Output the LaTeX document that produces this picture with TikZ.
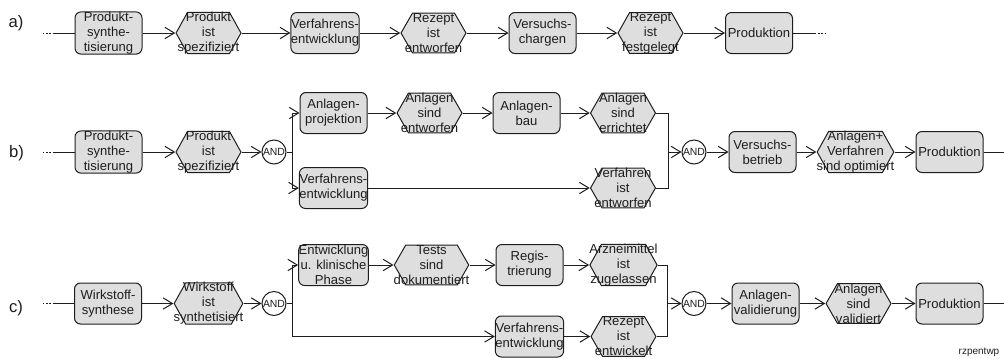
\documentclass[tikz,border=0pt]{standalone}
\usepackage{fontspec}
\setmainfont{Liberation Sans}
\usetikzlibrary{arrows.meta,calc}
\definecolor{boxgray}{RGB}{222,222,222}
\definecolor{ink}{RGB}{30,30,30}
\begin{document}
\begin{tikzpicture}[x=0.75pt,y=-0.75pt,
  base/.style={font=\fontsize{9.8pt}{11.25pt}\selectfont, align=center, inner sep=0pt, text=ink},
  fn/.style={base, draw=ink, line width=0.75pt, fill=boxgray, rounded corners=4.5pt,
    minimum width=50.25pt, minimum height=30.75pt},
  ev/.style={base, minimum width=49.5pt, minimum height=30.75pt,
    path picture={\filldraw[draw=ink, fill=boxgray, line width=0.75pt, line join=miter]
      ([xshift=0.4pt]path picture bounding box.west)
      -- ([xshift=9pt,yshift=-0.4pt]path picture bounding box.north west)
      -- ([xshift=-9pt,yshift=-0.4pt]path picture bounding box.north east)
      -- ([xshift=-0.4pt]path picture bounding box.east)
      -- ([xshift=-9pt,yshift=0.4pt]path picture bounding box.south east)
      -- ([xshift=9pt,yshift=0.4pt]path picture bounding box.south west) -- cycle;}},
  andop/.style={circle, draw=ink, line width=0.75pt, fill=white, minimum size=18pt, inner sep=0pt,
    font=\fontsize{7.8pt}{9pt}\selectfont, text=ink},
  rowlabel/.style={font=\fontsize{12.5pt}{14pt}\selectfont, text=ink, inner sep=0pt},
  link/.style={draw=ink, line width=0.75pt},
  arr/.style={link, -{Straight Barb[length=7pt,width=8.5pt]}},
  stub/.style={draw=ink, line width=0.75pt, dash pattern=on 1pt off 1.4pt},
]
\useasboundingbox (0,0) rectangle (1004,358);

% ---------- a) ----------
\node[rowlabel] (la) at (16,23) {a)};
\node[fn] (a1) at (108.5,33) {Produkt-\\synthe-\\tisierung};
\node[ev] (a2) at (208.5,33) {Produkt\\ist\\spezifiziert};
\node[fn] (a3) at (325,33) {Verfahrens-\\entwicklung};
\node[ev] (a4) at (433.5,33) {Rezept\\ist\\entworfen};
\node[fn] (a5) at (542.5,33) {Versuchs-\\chargen};
\node[ev] (a6) at (650.5,33) {Rezept\\ist\\festgelegt};
\node[fn] (a7) at (759,33) {Produktion};
\coordinate (a0d) at (43,33);
\coordinate (a0) at (53,33);
\coordinate (a8) at (815,33);
\coordinate (a8d) at (825,33);
\draw[stub] (a0d) -- (a0);
\draw[link] (a0) -- (a1.west);
\draw[arr] (a1) -- (a2);
\draw[arr] (a2) -- (a3);
\draw[arr] (a3) -- (a4);
\draw[arr] (a4) -- (a5);
\draw[arr] (a5) -- (a6);
\draw[arr] (a6) -- (a7);
\draw[link] (a7.east) -- (a8);
\draw[stub] (a8) -- (a8d);

% ---------- b) ----------
\node[rowlabel] (lb) at (16.5,153) {b)};
\node[fn] (b1) at (108.5,152) {Produkt-\\synthe-\\tisierung};
\node[ev] (b2) at (208.5,152) {Produkt\\ist\\spezifiziert};
\node[andop] (b3) at (274,152) {AND};
\node[fn] (b4) at (333.5,113) {Anlagen-\\projektion};
\node[ev] (b5) at (429.5,113) {Anlagen\\sind\\entworfen};
\node[fn] (b6) at (526.5,113) {Anlagen-\\bau};
\node[ev] (b7) at (623,113) {Anlagen\\sind\\errichtet};
\node[fn] (b8) at (333.5,188) {Verfahrens-\\entwicklung};
\node[ev] (b9) at (623,188) {Verfahren\\ist\\entworfen};
\node[andop] (b10) at (694,152) {AND};
\node[fn] (b11) at (762.5,152) {Versuchs-\\betrieb};
\node[ev] (b12) at (855.5,152) {Anlagen+\\Verfahren\\sind optimiert};
\node[fn] (b13) at (949.5,152) {Produktion};
\coordinate (b0d) at (43,152);
\coordinate (b0) at (53,152);
\coordinate (bsplit) at (292,152);
\coordinate (bjoin) at (668,152);
\coordinate (bend) at (1004,152);
\draw[stub] (b0d) -- (b0);
\draw[link] (b0) -- (b1.west);
\draw[arr] (b1) -- (b2);
\draw[arr] (b2) -- (b3);
\draw[link] (b3.east) -- (bsplit);
\draw[arr] (bsplit) |- (b4.west);
\draw[arr] (bsplit) |- (b8.west);
\draw[arr] (b4) -- (b5);
\draw[arr] (b5) -- (b6);
\draw[arr] (b6) -- (b7);
\draw[arr] (b8) -- (b9);
\draw[link] (b7.east) -| (bjoin);
\draw[link] (b9.east) -| (bjoin);
\draw[arr] (bjoin) -- (b10.west);
\draw[arr] (b10) -- (b11);
\draw[arr] (b11) -- (b12);
\draw[arr] (b12) -- (b13);
\draw[link] (b13.east) -- (bend);

% ---------- c) ----------
\node[rowlabel] (lc) at (16,308) {c)};
\node[fn] (c1) at (108,303.5) {Wirkstoff-\\synthese};
\node[ev] (c2) at (208.5,303.5) {Wirkstoff\\ist\\synthetisiert};
\node[andop] (c3) at (274,303.5) {AND};
\node[fn] (c4) at (333.5,265) {Entwicklung\\u. klinische\\Phase};
\node[ev] (c5) at (431.5,265) {Tests\\sind\\dokumentiert};
\node[fn] (c6) at (529.5,265) {Regis-\\trierung};
\node[ev] (c7) at (623.5,265) {Arzneimittel\\ist\\zugelassen};
\node[fn] (c8) at (529.5,336.5) {Verfahrens-\\entwicklung};
\node[ev] (c9) at (623.5,336.5) {Rezept\\ist\\entwickelt};
\node[andop] (c10) at (694,303.5) {AND};
\node[fn] (c11) at (765.5,303.5) {Anlagen-\\validierung};
\node[ev] (c12) at (858.5,303.5) {Anlagen\\sind\\validiert};
\node[fn] (c13) at (949.5,303.5) {Produktion};
\coordinate (c0d) at (43,303.5);
\coordinate (c0) at (53,303.5);
\coordinate (csplit) at (292,303.5);
\coordinate (cjoin) at (667,303.5);
\coordinate (cend) at (1004,303.5);
\draw[stub] (c0d) -- (c0);
\draw[link] (c0) -- (c1.west);
\draw[arr] (c1) -- (c2);
\draw[arr] (c2) -- (c3);
\draw[link] (c3.east) -- (csplit);
\draw[arr] (csplit) |- (c4.west);
\draw[arr] (csplit) |- (c8.west);
\draw[arr] (c4) -- (c5);
\draw[arr] (c5) -- (c6);
\draw[arr] (c6) -- (c7);
\draw[arr] (c8) -- (c9);
\draw[link] (c7.east) -| (cjoin);
\draw[link] (c9.east) -| (cjoin);
\draw[arr] (cjoin) -- (c10.west);
\draw[arr] (c10) -- (c11);
\draw[arr] (c11) -- (c12);
\draw[arr] (c12) -- (c13);
\draw[link] (c13.east) -- (cend);

\node[font=\fontsize{7.5pt}{9pt}\selectfont, text=ink, inner sep=0pt] (tag) at (979,352) {rzpentwp};
\end{tikzpicture}
\end{document}
